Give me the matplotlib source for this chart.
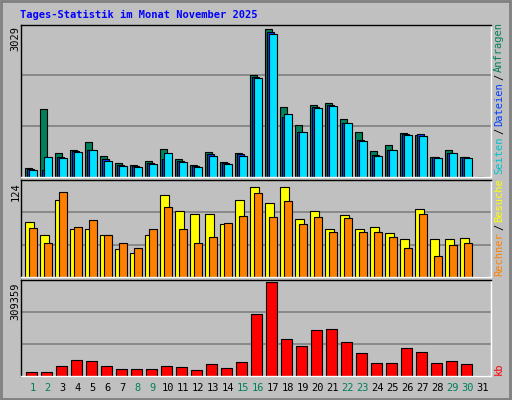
import matplotlib
matplotlib.use('Agg')
import matplotlib.pyplot as plt
import numpy as np

days = list(range(1, 32))
anfragen = [171, 1384, 480, 541, 706, 418, 274, 233, 315, 562, 356, 233, 500, 295, 480,
            2082, 3029, 1425, 1055, 1466, 1507, 1178, 911, 521, 644, 891, 849, 397, 541, 397, 0]
dateien = [151, 137, 397, 520, 561, 356, 233, 212, 274, 356, 315, 212, 459, 274, 459,
           2041, 2986, 1219, 931, 1425, 1466, 1096, 747, 438, 541, 870, 870, 397, 479, 397, 0]
seiten = [130, 397, 377, 500, 561, 315, 212, 192, 254, 479, 294, 192, 418, 254, 418,
          2021, 2945, 1281, 931, 1404, 1445, 1096, 726, 418, 541, 849, 829, 377, 479, 377, 0]
besuche = [75, 57, 105, 66, 66, 57, 38, 33, 57, 113, 90, 86, 86, 73, 105,
           124, 101, 124, 80, 90, 65, 85, 65, 69, 60, 52, 93, 52, 52, 53, 0]
rechner = [67, 46, 116, 69, 78, 57, 47, 40, 66, 96, 66, 47, 55, 74, 84,
           115, 82, 104, 72, 82, 62, 81, 61, 61, 55, 40, 86, 29, 44, 47, 0]
kb = [11290, 11290, 31612, 51934, 48547, 31612, 21451, 21451, 21451, 31612, 28225, 18064,
      38386, 24838, 45160, 204349, 309359, 119674, 99352, 150157, 153544, 112900, 75643,
      41773, 41773, 92578, 79030, 41773, 48547, 38386, 0]
weekend = [1, 2, 8, 9, 15, 16, 22, 23, 29, 30]

bg = '#c0c0c0'
mono = 'DejaVu Sans Mono'
fig = plt.figure(figsize=(5.12, 4.0), dpi=100, facecolor=bg)
x = np.array(days)


def panel(rect, top):
    ax = fig.add_axes(rect, facecolor=bg)
    ax.set_xlim(0.22, 31.55)
    ax.set_ylim(0, top)
    for f in (1/3, 2/3):
        ax.axhline(top * f, color='#808080', lw=1.2, zorder=0)
    ax.set_xticks([])
    ax.set_yticks([])
    for s in ax.spines.values():
        s.set_linewidth(1)
    ax.spines['bottom'].set_color('white')
    ax.spines['right'].set_color('white')
    ax.spines['top'].set_color('black')
    ax.spines['left'].set_color('black')
    return ax


ax1 = panel([0.041, 0.558, 0.918, 0.38], 3124)
ax1.bar(x - 0.51, anfragen, 0.49, align='edge', color='#00805c', edgecolor='black', lw=0.8)
ax1.bar(x - 0.38, dateien, 0.49, align='edge', color='#0040ff', edgecolor='black', lw=0.8)
ax1.bar(x - 0.25, seiten, 0.51, align='edge', color='#00e0ff', edgecolor='black', lw=0.8)

ax2 = panel([0.041, 0.308, 0.918, 0.242], 133)
ax2.bar(x - 0.51, besuche, 0.58, align='edge', color='#ffff00', edgecolor='black', lw=0.8)
ax2.bar(x - 0.25, rechner, 0.51, align='edge', color='#ff8000', edgecolor='black', lw=0.8)

ax3 = panel([0.041, 0.061, 0.918, 0.239], 316700)
ax3.bar(x - 0.45, kb, 0.71, align='edge', color='#ff0000', edgecolor='black', lw=0.8)
for d in days:
    ax3.text(d, -0.08, str(d), transform=ax3.get_xaxis_transform(), ha='center', va='top',
             fontsize=7.5, family=mono, color='#00805c' if d in weekend else 'black')

fig.text(0.04, 0.962, 'Tages-Statistik im Monat November 2025', fontsize=7.5, family=mono,
         weight='bold', color='#0000ff', va='center')
fig.text(0.03, 0.935, '3029', rotation=90, fontsize=7.5, family=mono, ha='center', va='top')
fig.text(0.03, 0.545, '124', rotation=90, fontsize=7.5, family=mono, ha='center', va='top')
fig.text(0.03, 0.295, '309359', rotation=90, fontsize=7.5, family=mono, ha='center', va='top')

renderer = fig.canvas.get_renderer()


# right side legend texts, reading bottom to top
def side(parts, ybot):
    y = ybot
    for txt, c in parts:
        t = fig.text(0.975, y, txt, rotation=90, fontsize=7.5, family=mono, color=c,
                     ha='center', va='bottom')
        h = t.get_window_extent(renderer).height / fig.bbox.height
        y += h + 2.0 / 400

side([('Seiten', '#00c0d0'), ('/', 'black'), ('Dateien', '#0040ff'),
      ('/', 'black'), ('Anfragen', '#00805c')], 0.565)
side([('Rechner', '#ff8000'), ('/', 'black'), ('Besuche', '#ffff00')], 0.31)
side([('kb', '#ff0000')], 0.062)

fig.patches.append(plt.Rectangle((0.002, 0.003), 0.994, 0.994, transform=fig.transFigure,
                                 fill=False, edgecolor='#808080', lw=2))
fig.savefig('out.png', dpi=100, facecolor=bg)
